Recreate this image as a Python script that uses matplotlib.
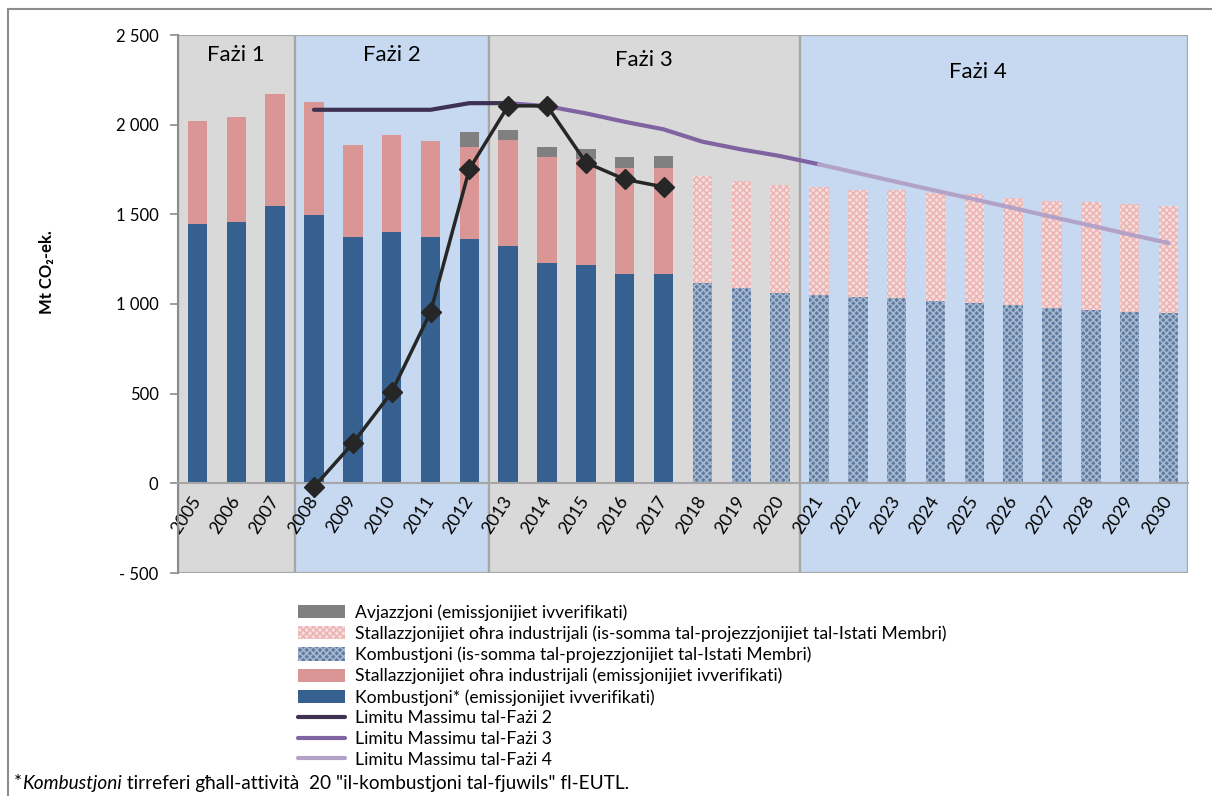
import numpy as np
import matplotlib
matplotlib.use("Agg")
import matplotlib.pyplot as plt
from matplotlib.patches import Rectangle

plt.rcParams['font.family'] = ['Lato', 'DejaVu Sans']
plt.rcParams['hatch.linewidth'] = 1.1

years = list(range(2005, 2031))

# verified emissions 2005-2017
verified_years = list(range(2005, 2018))
combustion = [1447, 1458, 1547, 1495, 1373, 1404, 1373, 1362, 1324, 1228, 1216, 1170, 1166]
industry = [573, 584, 624, 631, 511, 540, 537, 511, 590, 591, 592, 588, 594]

# aviation 2012-2017
aviation_years = list(range(2012, 2018))
aviation = [84, 54, 56, 57, 59, 63]

# projections 2018-2030
proj_years = list(range(2018, 2031))
combustion_proj = [1116, 1090, 1060, 1051, 1038, 1034, 1016, 1008, 993, 978, 967, 956, 949]
industry_proj = [595, 597, 601, 601, 599, 601, 601, 603, 599, 599, 601, 602, 595]

# black line with diamonds
black_years = list(range(2008, 2018))
black_vals = [-20, 223, 508, 954, 1752, 2105, 2105, 1789, 1695, 1653]

# caps
cap2_years = list(range(2008, 2014))
cap2 = [2083, 2083, 2083, 2083, 2120, 2120]
cap3_years = list(range(2013, 2022))
cap3 = [2120, 2103, 2063, 2016, 1974, 1905, 1862, 1825, 1779]
cap4_years = list(range(2021, 2031))
cap4 = [1779, 1730, 1681, 1632, 1584, 1535, 1486, 1437, 1388, 1340]

phases = ['Fażi 1', 'Fażi 2', 'Fażi 3', 'Fażi 4']
phase_spans = [(2005, 2007), (2008, 2012), (2013, 2020), (2021, 2030)]

C_BLUE = '#35608f'
C_PINK = '#d99694'
C_GRAY = '#808080'
BG_GRAY = '#d9d9d9'
BG_BLUE = '#c6d9f0'


def xi(yrs):
    return np.array([years.index(y) for y in yrs])


fig = plt.figure(figsize=(12.12, 7.96), dpi=100)
ax = fig.add_axes([178 / 1212, 1 - 573 / 796, 1010 / 1212, 538 / 796])

# outer frame
fig.patches.append(Rectangle((8 / 1212, -0.05), 1.1, 0.05 + 1 - 9 / 796, transform=fig.transFigure,
                             fill=False, edgecolor='#8c8c8c', lw=1.5, clip_on=False))

# phase backgrounds
bg_colors = [BG_GRAY, BG_BLUE, BG_GRAY, BG_BLUE]
for (a, b), col in zip(phase_spans, bg_colors):
    ax.axvspan(years.index(a) - 0.5, years.index(b) + 0.5, ymin=0, ymax=1, facecolor=col,
               edgecolor='#a6a6a6', lw=1.6, zorder=0)

w = 0.5
b1 = ax.bar(xi(verified_years), combustion, w, color=C_BLUE, zorder=2,
            label='Kombustjoni* (emissjonijiet ivverifikati)')
b2 = ax.bar(xi(verified_years), industry, w, bottom=combustion, color=C_PINK, zorder=2,
            label='Stallazzjonijiet oħra industrijali (emissjonijiet ivverifikati)')
av_bottom = [combustion[verified_years.index(y)] + industry[verified_years.index(y)] for y in aviation_years]
b3 = ax.bar(xi(aviation_years), aviation, w, bottom=av_bottom, color=C_GRAY, zorder=2,
            label='Avjazzjoni (emissjonijiet ivverifikati)')
b4 = ax.bar(xi(proj_years), combustion_proj, w, facecolor='#5d7ca3', edgecolor='#a9b9cf',
            hatch='xxxxx', lw=0, zorder=2,
            label='Kombustjoni (is-somma tal-projezzjonijiet tal-Istati Membri)')
b5 = ax.bar(xi(proj_years), industry_proj, w, bottom=combustion_proj, facecolor='#f7dede',
            edgecolor='#ebb3b2', hatch='xxxxx', lw=0, zorder=2,
            label='Stallazzjonijiet oħra industrijali (is-somma tal-projezzjonijiet tal-Istati Membri)')

l2, = ax.plot(xi(cap2_years), cap2, color='#3f3151', lw=3, zorder=3, solid_capstyle='round',
              label='Limitu Massimu tal-Fażi 2')
l3, = ax.plot(xi(cap3_years), cap3, color='#8064a2', lw=3, zorder=3, solid_capstyle='round',
              label='Limitu Massimu tal-Fażi 3')
l4, = ax.plot(xi(cap4_years), cap4, color='#b3a2c7', lw=3, zorder=3, solid_capstyle='round',
              label='Limitu Massimu tal-Fażi 4')
ax.plot(xi(black_years), black_vals, color='#262626', lw=2.5, marker='D', markersize=10, zorder=4)

# phase labels
label_pos = [(1.0, 2388), (5.0, 2388), (11.5, 2360), (20.1, 2293)]
for name, (px, py) in zip(phases, label_pos):
    ax.text(px, py, name, ha='center', va='center', fontsize=16, color='black')

ax.set_xlim(-0.5, len(years) - 0.5)
ax.set_ylim(-500, 2500)

# spine position first (it resets tick label styling)
ax.spines['bottom'].set_position(('data', 0))
ax.spines['bottom'].set_color('#a6a6a6')
ax.spines['bottom'].set_linewidth(1.5)
ax.spines['left'].set_color('#8c8c8c')
ax.spines['left'].set_linewidth(1.5)
ax.spines['top'].set_visible(False)
ax.spines['right'].set_visible(False)


def fmt(v):
    if v < 0:
        return '- ' + fmt(-v)
    return f'{v:,}'.replace(',', ' ')


ax.set_yticks(range(-500, 2501, 500))
ax.set_yticklabels([fmt(v) for v in range(-500, 2501, 500)], fontsize=12)
ax.set_xticks(range(len(years)))
ax.set_xticklabels([str(y) for y in years], rotation=57, ha='right', va='center',
                   rotation_mode='anchor', fontsize=12.8)
ax.tick_params(axis='x', length=0, pad=10)
ax.tick_params(axis='y', length=6, color='#8c8c8c', width=1.2, pad=8)
for t in ax.get_xticklabels():
    t.set_zorder(5)

fig.text(47 / 1212, 1 - 272 / 796, 'Mt CO₂-ek.', rotation=90, ha='center', va='center',
         fontsize=12, fontweight='bold')

handles = [b3, b5, b4, b2, b1, l2, l3, l4]
fig.legend(handles=handles, labels=[h.get_label() for h in handles], loc='upper left',
           bbox_to_anchor=(298 / 1212, 1 - 604 / 796), frameon=False, fontsize=12.6,
           handlelength=2.7, handleheight=0.8, handletextpad=0.55, labelspacing=0.27,
           borderpad=0, borderaxespad=0)

# footnote, with the italic word
renderer = fig.canvas.get_renderer()
fy = 1 - 783 / 796
fx = 14 / 1212
parts = [('*', 'normal'), ('Kombustjoni', 'italic'),
         (' tirreferi għall-attività  20 "il-kombustjoni tal-fjuwils" fl-EUTL.', 'normal')]
for s, style in parts:
    t = fig.text(fx, fy, s, fontsize=13.7, style=style, va='center', ha='left')
    bb = t.get_window_extent(renderer)
    fx += bb.width / fig.bbox.width

fig.savefig('out.png', dpi=100)
